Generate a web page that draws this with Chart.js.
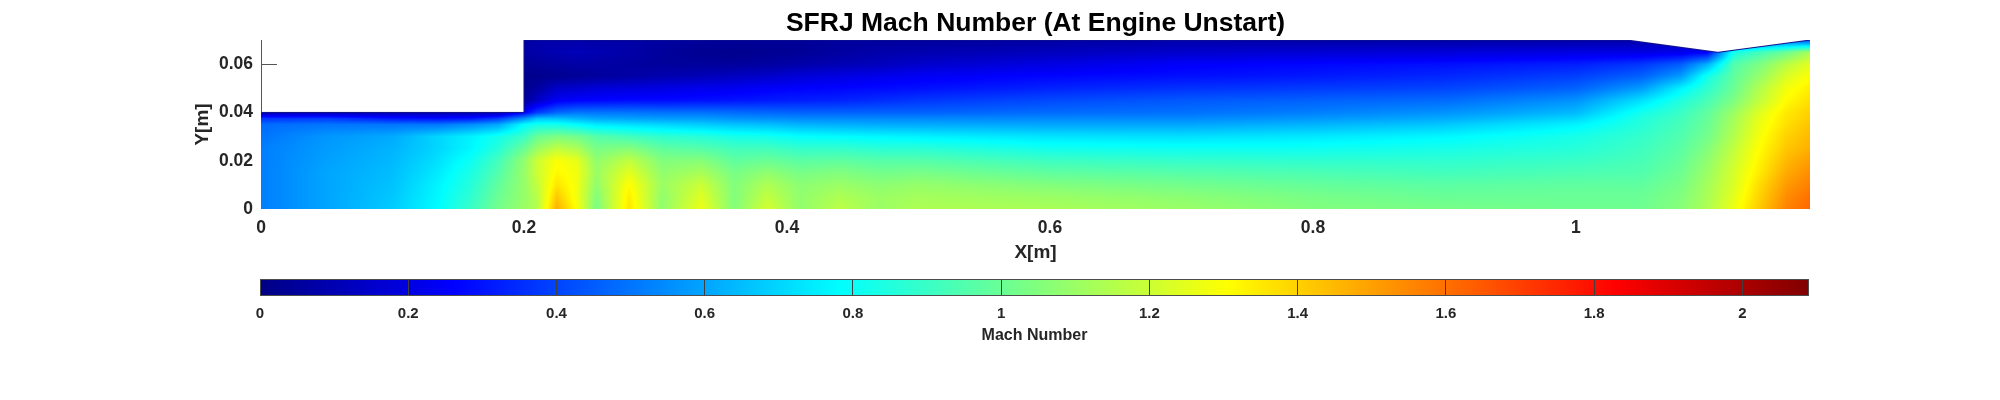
<!DOCTYPE html>
<html>
<head>
<meta charset="utf-8">
<title>SFRJ Mach Number</title>
<script src="https://cdn.jsdelivr.net/npm/chart.js@4/dist/chart.umd.min.js"></script>
<style>
  html, body { margin: 0; padding: 0; background: #fff; }
  canvas { position: absolute; left: 0; }
  #fieldChart { top: 0; }
  #barChart { top: 270px; }
</style>
</head>
<body>
<canvas id="fieldChart" width="2000" height="270"></canvas>
<canvas id="barChart" width="2000" height="130"></canvas>
<script>
const xTicks = [0, 0.2, 0.4, 0.6, 0.8, 1];
const yTicks = [0, 0.02, 0.04, 0.06];
const barTicks = [0, 0.2, 0.4, 0.6, 0.8, 1, 1.2, 1.4, 1.6, 1.8, 2];
const machMax = 2.09;

// duct wall outline
const wallX = [0, 0.2, 0.2, 1.039, 1.108, 1.178];
const wallY = [0.04, 0.04, 0.07, 0.07, 0.0649, 0.07];

// mach values, one row per gridY, one column per gridX
const gridX = [0, 0.05, 0.1, 0.134, 0.16, 0.18, 0.2, 0.21, 0.225, 0.24, 0.255, 0.28, 0.305, 0.335, 0.36, 0.385, 0.41, 0.44, 0.47, 0.5, 0.6, 0.7, 0.8, 0.9, 1, 1.05, 1.08, 1.1, 1.12, 1.14, 1.16, 1.178];
const gridY = [0, 0.005, 0.01, 0.015, 0.02, 0.025, 0.03, 0.035, 0.0375, 0.04, 0.045, 0.05, 0.055, 0.06, 0.065, 0.07];
const machRows = [
  [.52,.6,.68,.78,.9,1.02,1.1,1.15,1.47,1.3,1.03,1.36,1.08,1.27,1.05,1.22,1.08,1.17,1.1,1.14,1.13,1.1,1.05,1.03,1.01,1.01,1.06,1.14,1.27,1.42,1.56,1.62],
  [.52,.6,.67,.77,.88,1,1.09,1.16,1.42,1.28,1.05,1.34,1.08,1.24,1.05,1.18,1.08,1.14,1.1,1.12,1.1,1.07,1.03,1,1,1,1.05,1.13,1.25,1.4,1.54,1.6],
  [.52,.6,.66,.76,.86,.98,1.09,1.18,1.36,1.28,1.08,1.31,1.1,1.2,1.05,1.14,1.07,1.1,1.07,1.09,1.05,1.02,.99,.97,.98,.98,1.03,1.12,1.23,1.38,1.51,1.57],
  [.52,.6,.65,.74,.84,.95,1.09,1.2,1.32,1.28,1.1,1.25,1.08,1.13,1.03,1.08,1.03,1.05,1.02,1.03,.98,.96,.94,.92,.94,.95,1.01,1.1,1.22,1.35,1.48,1.54],
  [.52,.59,.64,.72,.81,.92,1.08,1.2,1.3,1.26,1.08,1.18,1.05,1.06,.98,1,.97,.98,.96,.96,.91,.89,.88,.88,.9,.93,.99,1.08,1.2,1.33,1.45,1.51],
  [.52,.58,.63,.7,.77,.86,1,1.1,1.18,1.14,1.03,1.06,.98,.96,.92,.92,.89,.89,.87,.87,.82,.81,.81,.83,.86,.91,.97,1.05,1.18,1.31,1.42,1.47],
  [.5,.57,.61,.7,.76,.82,.9,1,1.04,1.02,.96,.92,.88,.86,.83,.82,.79,.78,.77,.76,.73,.72,.74,.77,.83,.89,.95,1.02,1.15,1.29,1.4,1.45],
  [.48,.5,.5,.5,.55,.6,.78,.82,.82,.78,.74,.72,.7,.68,.66,.65,.63,.62,.61,.61,.6,.6,.63,.67,.76,.86,.93,1,1.13,1.27,1.37,1.43],
  [.36,.38,.3,.28,.3,.38,.55,.66,.66,.63,.6,.59,.58,.58,.56,.55,.54,.54,.54,.54,.54,.54,.57,.61,.7,.85,.92,.99,1.12,1.26,1.36,1.41],
  [.08,.08,.08,.08,.08,.08,.25,.38,.47,.5,.5,.5,.49,.49,.48,.47,.46,.46,.46,.46,.48,.49,.52,.56,.64,.82,.9,.98,1.1,1.24,1.35,1.4],
  [.08,.08,.08,.08,.08,.08,.05,.14,.24,.26,.27,.28,.28,.29,.3,.31,.32,.33,.35,.37,.41,.44,.46,.48,.56,.72,.85,.93,1.04,1.18,1.31,1.37],
  [.08,.08,.08,.08,.08,.08,.02,.06,.14,.16,.18,.19,.2,.22,.23,.25,.26,.27,.28,.29,.33,.36,.38,.4,.46,.58,.76,.88,1,1.15,1.28,1.34],
  [.08,.08,.08,.08,.08,.08,.02,.02,.03,.04,.05,.07,.09,.11,.13,.15,.18,.2,.22,.24,.27,.29,.31,.34,.39,.46,.58,.82,.98,1.09,1.23,1.3],
  [.08,.08,.08,.08,.08,.08,.04,.05,.06,.07,.07,.06,.05,.05,.05,.06,.08,.1,.12,.15,.2,.25,.27,.29,.32,.37,.45,.62,.95,1.04,1.16,1.25],
  [.08,.08,.08,.08,.08,.08,.07,.08,.1,.11,.1,.08,.05,.03,.02,.03,.04,.06,.08,.09,.12,.15,.17,.18,.2,.2,.22,.25,.82,.92,1,1.12],
  [.08,.08,.08,.08,.08,.08,.07,.08,.08,.08,.07,.07,.06,.05,.04,.04,.04,.05,.05,.05,.06,.08,.07,.07,.07,.08,.1,.12,.3,.4,.45,.4]
];

// jet colormap stops: fraction of machMax, then r g b
const jetStops = [
  [0, 0, 0, 132],
  [0.125, 0, 0, 255],
  [0.375, 0, 255, 255],
  [0.625, 255, 255, 0],
  [0.875, 255, 0, 0],
  [1, 128, 0, 0]
];

const textColor = '#262626';
const tickFont = { family: '"Liberation Sans"', size: 17.5, weight: 'bold', lineHeight: 1.2 };
const labelFont = { family: '"Liberation Sans"', size: 19, weight: 'bold', lineHeight: 1.2 };

function bracket(list, value) {
  let i = 0;
  while (i < list.length - 2 && value > list[i + 1]) i++;
  const t = (value - list[i]) / (list[i + 1] - list[i]);
  return [i, Math.min(1, Math.max(0, t))];
}

function machAt(x, y) {
  const [i, tx] = bracket(gridX, x);
  const [j, ty] = bracket(gridY, y);
  const low = machRows[j][i] * (1 - tx) + machRows[j][i + 1] * tx;
  const high = machRows[j + 1][i] * (1 - tx) + machRows[j + 1][i + 1] * tx;
  return low * (1 - ty) + high * ty;
}

function wallAt(x) {
  for (let i = wallX.length - 1; i > 0; i--) {
    if (x >= wallX[i - 1] && wallX[i] > wallX[i - 1]) {
      const t = (x - wallX[i - 1]) / (wallX[i] - wallX[i - 1]);
      return wallY[i - 1] + (wallY[i] - wallY[i - 1]) * t;
    }
  }
  return wallY[0];
}

function jetColor(mach) {
  const f = Math.min(1, Math.max(0, mach / machMax));
  let i = 0;
  while (i < jetStops.length - 2 && f > jetStops[i + 1][0]) i++;
  const a = jetStops[i], b = jetStops[i + 1];
  const t = (f - a[0]) / (b[0] - a[0]);
  return [1, 2, 3].map(k => a[k] + (b[k] - a[k]) * t);
}

// smooth shading of the mach grid, same as shading interp
const fieldPlugin = {
  id: 'field',
  beforeDatasetsDraw(chart) {
    const { ctx, chartArea: area, scales: { x, y } } = chart;
    const w = Math.round(area.right - area.left);
    const h = Math.round(area.bottom - area.top);
    const sheet = document.createElement('canvas');
    sheet.width = w;
    sheet.height = h;
    const sheetCtx = sheet.getContext('2d');
    const img = sheetCtx.createImageData(w, h);
    for (let px = 0; px < w; px++) {
      const xv = x.getValueForPixel(area.left + px + 0.5);
      const top = wallAt(xv);
      for (let py = 0; py < h; py++) {
        const yv = y.getValueForPixel(area.top + py + 0.5);
        if (yv > top) continue;
        const c = jetColor(machAt(xv, yv));
        const k = (py * w + px) * 4;
        img.data[k] = c[0];
        img.data[k + 1] = c[1];
        img.data[k + 2] = c[2];
        img.data[k + 3] = 255;
      }
    }
    sheetCtx.putImageData(img, 0, 0);
    ctx.drawImage(sheet, area.left, area.top);
  },
  afterDatasetsDraw(chart) {
    const { ctx, scales: { x, y } } = chart;
    const left = x.getPixelForValue(0);
    ctx.save();
    ctx.strokeStyle = '#555';
    ctx.lineWidth = 1;
    ctx.beginPath();
    ctx.moveTo(left + 0.5, y.getPixelForValue(0.07));
    ctx.lineTo(left + 0.5, y.getPixelForValue(wallY[0]));
    yTicks.filter(v => v > wallY[0]).forEach(v => {
      const py = Math.round(y.getPixelForValue(v)) + 0.5;
      ctx.moveTo(left, py);
      ctx.lineTo(left + 16, py);
    });
    ctx.stroke();
    ctx.restore();
  }
};

function fixedTicks(values) {
  return scale => { scale.ticks = values.map(v => ({ value: v })); };
}

new Chart(document.getElementById('fieldChart'), {
  type: 'scatter',
  plugins: [fieldPlugin],
  data: {
    datasets: [{
      label: 'Wall',
      data: wallX.map((x, i) => ({ x: x, y: wallY[i] })),
      showLine: true,
      borderColor: '#14148c',
      borderWidth: 1,
      pointRadius: 0
    }]
  },
  options: {
    responsive: false,
    animation: false,
    layout: { padding: { left: 191.6, right: 190, top: 10, bottom: 5.6 } },
    plugins: {
      legend: { display: false },
      tooltip: { enabled: false },
      title: {
        display: true,
        fullSize: false,
        text: 'SFRJ Mach Number (At Engine Unstart)',
        color: '#000',
        font: { family: '"Liberation Sans"', size: 26.5, weight: 'bold', lineHeight: 1 },
        padding: { top: 0, bottom: 3.5 }
      }
    },
    scales: {
      x: {
        type: 'linear',
        min: 0,
        max: 1.178,
        afterBuildTicks: fixedTicks(xTicks),
        afterFit: s => { s.height = 55.4; },
        grid: { display: false, drawTicks: false },
        border: { display: false },
        ticks: { color: textColor, font: tickFont, padding: 9, maxRotation: 0, autoSkip: false, callback: v => String(v) },
        title: { display: true, text: 'X[m]', color: textColor, font: labelFont, padding: 0 }
      },
      y: {
        type: 'linear',
        min: 0,
        max: 0.07,
        afterBuildTicks: fixedTicks(yTicks),
        afterFit: s => { s.width = 69.4; },
        grid: { display: false, drawTicks: false },
        border: { display: false },
        ticks: { color: textColor, font: tickFont, padding: 8, autoSkip: false, callback: v => String(v) },
        title: { display: true, text: 'Y[m]', color: textColor, font: labelFont, padding: 0 }
      }
    }
  }
});

const barOutline = {
  id: 'barOutline',
  afterDraw(chart) {
    const { ctx, chartArea: area } = chart;
    ctx.save();
    ctx.strokeStyle = '#4d4d4d';
    ctx.lineWidth = 1;
    ctx.strokeRect(area.left + 0.5, area.top + 0.5, area.right - area.left - 1, area.bottom - area.top - 1);
    ctx.restore();
  }
};

new Chart(document.getElementById('barChart'), {
  type: 'bar',
  plugins: [barOutline],
  data: {
    labels: ['Mach Number'],
    datasets: [{
      data: [[0, machMax]],
      barPercentage: 1,
      categoryPercentage: 1,
      backgroundColor(context) {
        const { chart } = context;
        const x = chart.scales.x;
        if (!chart.chartArea || !x) return '#000084';
        const g = chart.ctx.createLinearGradient(x.getPixelForValue(0), 0, x.getPixelForValue(machMax), 0);
        jetStops.forEach(s => g.addColorStop(s[0], `rgb(${s[1]},${s[2]},${s[3]})`));
        return g;
      }
    }]
  },
  options: {
    indexAxis: 'y',
    responsive: false,
    animation: false,
    layout: { padding: { left: 260, right: 191, top: 9, bottom: 54.4 } },
    plugins: { legend: { display: false }, tooltip: { enabled: false }, title: { display: false } },
    scales: {
      x: {
        type: 'linear',
        min: 0,
        max: machMax,
        afterBuildTicks: fixedTicks(barTicks),
        afterFit: s => { s.height = 49.6; },
        grid: { z: 1, color: '#404040', drawTicks: false },
        border: { display: false },
        ticks: { color: textColor, font: { family: '"Liberation Sans"', size: 15, weight: 'bold' }, padding: 9, maxRotation: 0, autoSkip: false, callback: v => String(v) },
        title: { display: true, text: 'Mach Number', color: textColor, font: { family: '"Liberation Sans"', size: 16, weight: 'bold', lineHeight: 1.2 }, padding: 0 }
      },
      y: {
        display: false
      }
    }
  }
});
</script>
</body>
</html>
